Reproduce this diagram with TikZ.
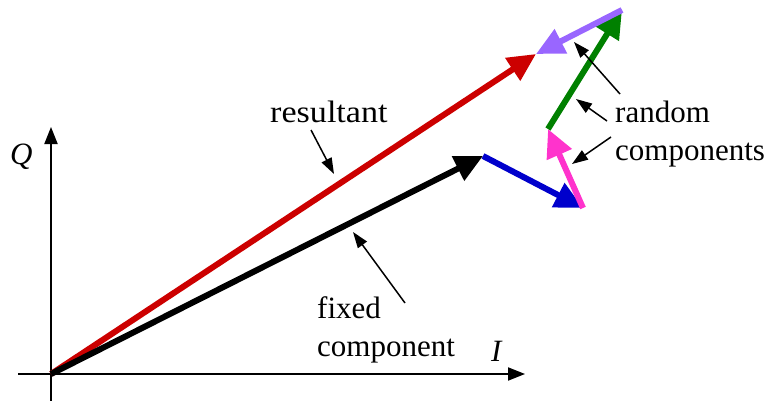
\documentclass[tikz,border=0pt]{standalone}
\usepackage{fontspec}
\usepackage{graphicx}
\newfontfamily\tms{Liberation Serif}
\usetikzlibrary{arrows.meta}
\definecolor{vred}{HTML}{CC0000}
\definecolor{vblue}{HTML}{0000CC}
\definecolor{vpink}{HTML}{FF33CC}
\definecolor{vgreen}{HTML}{008000}
\definecolor{vpurple}{HTML}{9966FF}
\tikzset{
  vec/.style={line width=6pt, -{Triangle[length=28pt,width=26pt]}},
  axis/.style={line width=2pt, -{Triangle[length=17pt,width=13pt]}},
  pointer/.style={line width=1.5pt, -{Triangle[length=16pt,width=11pt]}},
  lbl/.style={font=\tms\fontsize{31}{37}\selectfont, inner sep=0pt, anchor=base west},
}
\begin{document}
\begin{tikzpicture}[x=1pt,y=-1pt]
\useasboundingbox (0,0) rectangle (765,401);
% axes
\coordinate (O) at (51,374);
\coordinate (ybot) at (51,401);
\coordinate (ytop) at (51,127);
\coordinate (xl) at (18,374);
\coordinate (xr) at (525,374);
\draw[axis] (ybot) -- (ytop);
\draw[axis] (xl) -- (xr);
% vector points
\coordinate (A) at (483,156);
\coordinate (B) at (583,208);
\coordinate (C) at (548,129);
\coordinate (D) at (622,10);
\coordinate (E) at (536,54);
\draw[vec, vred] (O) -- (E);
\draw[vec, black] (O) -- (A);
\draw[vec, vblue] (A) -- (B);
\draw[vec, vpink] (B) -- (C);
\draw[vec, vgreen] (C) -- (D);
\draw[vec, vpurple] (D) -- (E);
% labels
\node[lbl] (Q) at (10,164) {\itshape Q};
\node[lbl] (I) at (491,361) {\itshape I};
\node[lbl] (res) at (270,123) {\scalebox{1.1}[1]{resultant}};
\node[lbl] (fix1) at (317,318) {fixed};
\node[lbl] (fix2) at (317,356) {component};
\node[lbl] (ran1) at (615,122) {random};
\node[lbl] (ran2) at (615,160) {components};
% pointers
\coordinate (r0) at (311,130);
\coordinate (r1) at (334,174);
\draw[pointer] (r0) -- (r1);
\coordinate (f0) at (405,303);
\coordinate (f1) at (353,232);
\draw[pointer] (f0) -- (f1);
\coordinate (a0) at (620,94);
\coordinate (a1) at (574,42);
\draw[pointer] (a0) -- (a1);
\coordinate (b0) at (607,121);
\coordinate (b1) at (576,99);
\draw[pointer] (b0) -- (b1);
\coordinate (c0) at (611,137);
\coordinate (c1) at (572,164);
\draw[pointer] (c0) -- (c1);
\end{tikzpicture}
\end{document}
